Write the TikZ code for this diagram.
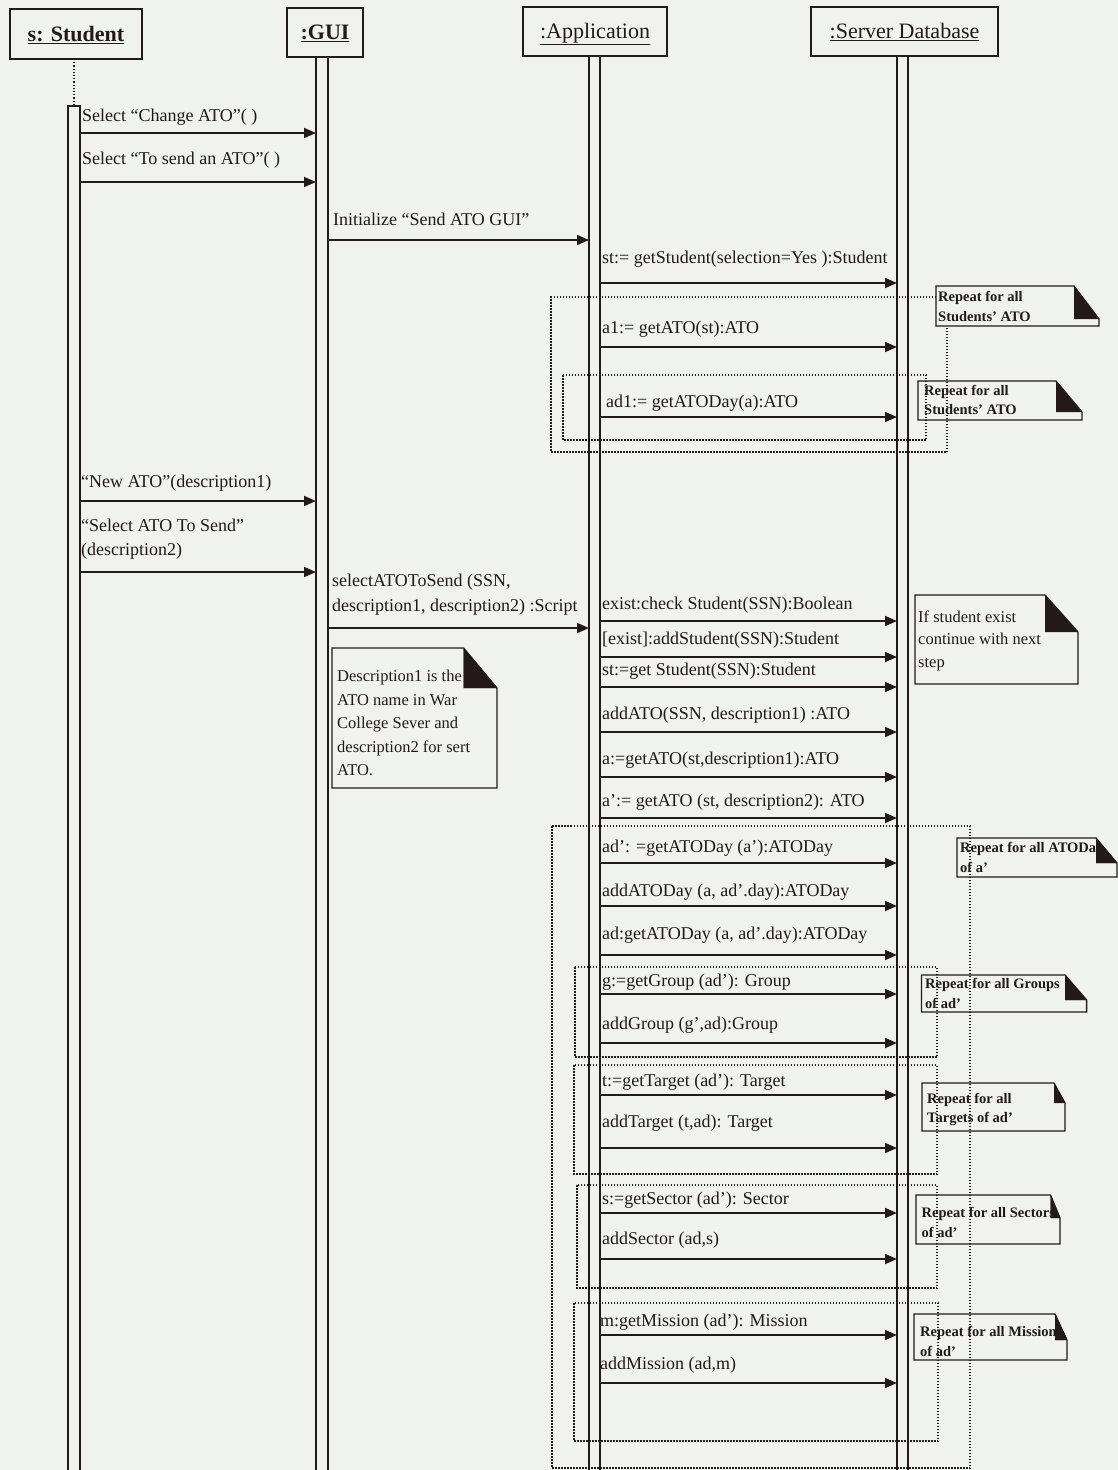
\documentclass[tikz,border=0pt]{standalone}
\usepackage{fontspec}
\setmainfont{Liberation Serif}
\usetikzlibrary{arrows.meta}
\definecolor{bg}{RGB}{240,242,240}
\definecolor{ink}{RGB}{35,25,25}
\newcommand\msgline[4]{\coordinate (#1a) at (#2,#4);\coordinate (#1b) at (#3,#4);\draw[msgarrow] (#1a) -- (#1b);}
\newcommand\umlnote[7]{\draw[notebox] (#2,#3) -- (#6,#3) -- (#4,#7) -- (#4,#5) -- (#2,#5) -- cycle;
  \fill[ink] (#6,#3) -- (#6,#7) -- (#4,#7) -- cycle;
  \coordinate (#1) at (#2,#3);}
\begin{document}
\begin{tikzpicture}[x=1pt,y=-1pt,
 lifebar/.style={draw=ink,line width=1.4pt},
 hdr/.style={draw=ink,line width=1.7pt,fill=bg,inner sep=0pt},
 hdrfont/.style={font=\fontsize{22}{26}\selectfont,text=ink,text height=20pt,text depth=6pt},
 msgarrow/.style={draw=ink,line width=1.7pt,-{Triangle[length=12pt,width=10pt]}},
 lbl/.style={anchor=west,inner sep=0pt,font=\fontsize{18}{22}\selectfont,text=ink},
 loopbox/.style={draw=ink,line width=1.4pt,dash pattern=on 1.5pt off 1.5pt},
 notebox/.style={draw=ink,line width=1.3pt,fill=bg},
 notetext/.style={anchor=west,inner sep=0pt,align=left,font=\bfseries\fontsize{14.5}{19.5}\selectfont,text=ink},
 bignote/.style={anchor=west,inner sep=0pt,align=left,font=\fontsize{16.5}{23.5}\selectfont,text=ink},
]
\fill[bg] (0,0) rectangle (1118,1470);
\useasboundingbox (0,0) rectangle (1118,1470);

% ---- headers ----
\node[hdr,hdrfont,minimum width=132pt,minimum height=50pt] (stu) at (76,34) {\bfseries\underline{s: Student}};
\node[hdr,hdrfont,minimum width=76pt,minimum height=49pt] (gui) at (325,32.5) {\bfseries\underline{:GUI}};
\node[hdr,hdrfont,minimum width=144pt,minimum height=49pt] (app) at (595,31.5) {\underline{:Application}};
\node[hdr,hdrfont,minimum width=187pt,minimum height=49pt] (srv) at (904.5,31.5) {\underline{:Server Database}};

% ---- lifelines / activation bars ----
\coordinate (stutop) at (74,106);
\draw[ink,dotted,line width=1.2pt] (74,59) -- (stutop);
\draw[lifebar] (68,1472) -- (68,106) -- (80,106) -- (80,1472);
\draw[lifebar] (316,57) -- (316,1472) (328,57) -- (328,1472);
\draw[lifebar] (589,56) -- (589,1472) (600,56) -- (600,1472);
\draw[lifebar] (897,56) -- (897,1472) (908,56) -- (908,1472);

% ---- notes ----
\umlnote{n1}{936}{286}{1099}{326}{1074}{319}
\node[notetext] (t1) at (938,306.5) {Repeat for all\\Students' ATO};
\umlnote{n2}{918}{381}{1082}{420}{1056}{412}
\node[notetext] (t2) at (924,400) {Repeat for all\\Students' ATO};
\umlnote{n3}{332}{648}{497}{788}{463.6}{688}
\node[bignote] (t3) at (337,723) {Description1 is the\\ATO name in War\\College Sever and\\description2 for sert\\ATO.};
\fill[ink] (463.6,648) -- (463.6,688) -- (497,688) -- cycle;
\umlnote{n4}{915}{595}{1078}{684}{1045}{632}
\node[bignote,font=\fontsize{16.5}{22.5}\selectfont] (t4) at (918,640.5) {If student exist\\continue with next\\step};
\umlnote{n5}{957}{838}{1117}{877}{1096}{863}
\node[notetext] (t5) at (960,857.5) {Repeat for all ATODay\\of a’};
\fill[ink] (1096,838) -- (1096,863) -- (1117,863) -- cycle;
\umlnote{n6}{921.5}{975}{1086.6}{1012}{1065}{1000}
\node[notetext] (t6) at (925,993.5) {Repeat for all Groups\\of ad’};
\fill[ink] (1065,975) -- (1065,1000) -- (1086.6,1000) -- cycle;
\umlnote{n7}{922}{1083}{1065}{1131}{1054}{1103}
\node[notetext] (t7) at (927,1109.5) {Repeat for all\\Targets of ad’};
\umlnote{n8}{916}{1195}{1060}{1244}{1050.5}{1218}
\node[notetext] (t8) at (921.5,1222.5) {Repeat for all Sectors\\of ad’};
\fill[ink] (1050.5,1195) -- (1050.5,1218) -- (1060,1218) -- cycle;
\umlnote{n9}{914}{1314}{1067}{1360}{1055}{1340}
\node[notetext] (t9) at (920,1341.5) {Repeat for all Missions\\of ad’};
\fill[ink] (1055,1314) -- (1055,1340) -- (1067,1340) -- cycle;

% ---- loop frames ----
\draw[loopbox] (936,297) -- (551,297) -- (551,452) -- (947,452) -- (947,326);
\draw[loopbox] (563,375) rectangle (926,440);
\draw[loopbox] (552,826) rectangle (970,1468);
\draw[loopbox] (575,967) rectangle (937,1057);
\draw[loopbox] (574,1065) rectangle (937,1174);
\draw[loopbox] (577,1185) rectangle (937,1288);
\draw[loopbox] (574,1303) rectangle (938,1441);

% ---- Student -> GUI ----
\msgline{m1}{80}{316}{133}
\node[lbl] (l1) at (82,117) {Select “Change ATO”( )};
\msgline{m2}{80}{316}{182}
\node[lbl] (l2) at (82,160) {Select “To send an ATO”( )};
\msgline{m3}{80}{316}{501}
\node[lbl] (l3) at (81,483) {“New ATO”(description1)};
\msgline{m4}{80}{316}{572}
\node[lbl] (l4a) at (81,525) {“Select ATO To Send”};
\node[lbl] (l4b) at (81,551) {(description2)};

% ---- GUI -> Application ----
\msgline{m5}{328}{589}{240}
\node[lbl] (l5) at (333,219) {Initialize “Send ATO GUI”};
\msgline{m6}{328}{589}{628}
\node[lbl] (l6a) at (332,582) {selectATOToSend (SSN,};
\node[lbl] (l6b) at (332,607) {description1, description2) :Script};

% ---- Application -> Server Database ----
\msgline{m7}{600}{897}{283}
\node[lbl] (l7) at (602,259) {st:= getStudent(selection=Yes ):Student};
\msgline{m8}{600}{897}{347}
\node[lbl] (l8) at (602,329) {a1:= getATO(st):ATO};
\msgline{m9}{600}{897}{417}
\node[lbl] (l9) at (606,403) {ad1:= getATODay(a):ATO};
\msgline{m10}{600}{897}{621}
\node[lbl] (l10) at (602,605) {exist:check Student(SSN):Boolean};
\msgline{m11}{600}{897}{657}
\node[lbl] (l11) at (602,640) {[exist]:addStudent(SSN):Student};
\msgline{m12}{600}{897}{687}
\node[lbl] (l12) at (602,671) {st:=get Student(SSN):Student};
\msgline{m13}{600}{897}{732}
\node[lbl] (l13) at (602,715) {addATO(SSN, description1) :ATO};
\msgline{m14}{600}{897}{777}
\node[lbl] (l14) at (602,760) {a:=getATO(st,description1):ATO};
\msgline{m15}{600}{897}{818}
\node[lbl] (l15) at (602,802) {a’:= getATO (st, description2): ATO};
\msgline{m16}{600}{897}{863}
\node[lbl] (l16) at (602,848) {ad’: =getATODay (a’):ATODay};
\msgline{m17}{600}{897}{906}
\node[lbl] (l17) at (602,892) {addATODay (a, ad’.day):ATODay};
\msgline{m18}{600}{897}{955}
\node[lbl] (l18) at (602,935) {ad:getATODay (a, ad’.day):ATODay};
\msgline{m19}{600}{897}{994}
\node[lbl] (l19) at (602,982) {g:=getGroup (ad’): Group};
\msgline{m20}{600}{897}{1043}
\node[lbl] (l20) at (602,1025) {addGroup (g’,ad):Group};
\msgline{m21}{600}{897}{1095}
\node[lbl] (l21) at (602,1082) {t:=getTarget (ad’): Target};
\msgline{m22}{600}{897}{1148}
\node[lbl] (l22) at (602,1123) {addTarget (t,ad): Target};
\msgline{m23}{600}{897}{1213}
\node[lbl] (l23) at (602,1200) {s:=getSector (ad’): Sector};
\msgline{m24}{600}{897}{1259}
\node[lbl] (l24) at (602,1240) {addSector (ad,s)};
\msgline{m25}{600}{897}{1335}
\node[lbl] (l25) at (600,1322) {m:getMission (ad’): Mission};
\msgline{m26}{600}{897}{1383}
\node[lbl] (l26) at (600,1365) {addMission (ad,m)};
\end{tikzpicture}
\end{document}
